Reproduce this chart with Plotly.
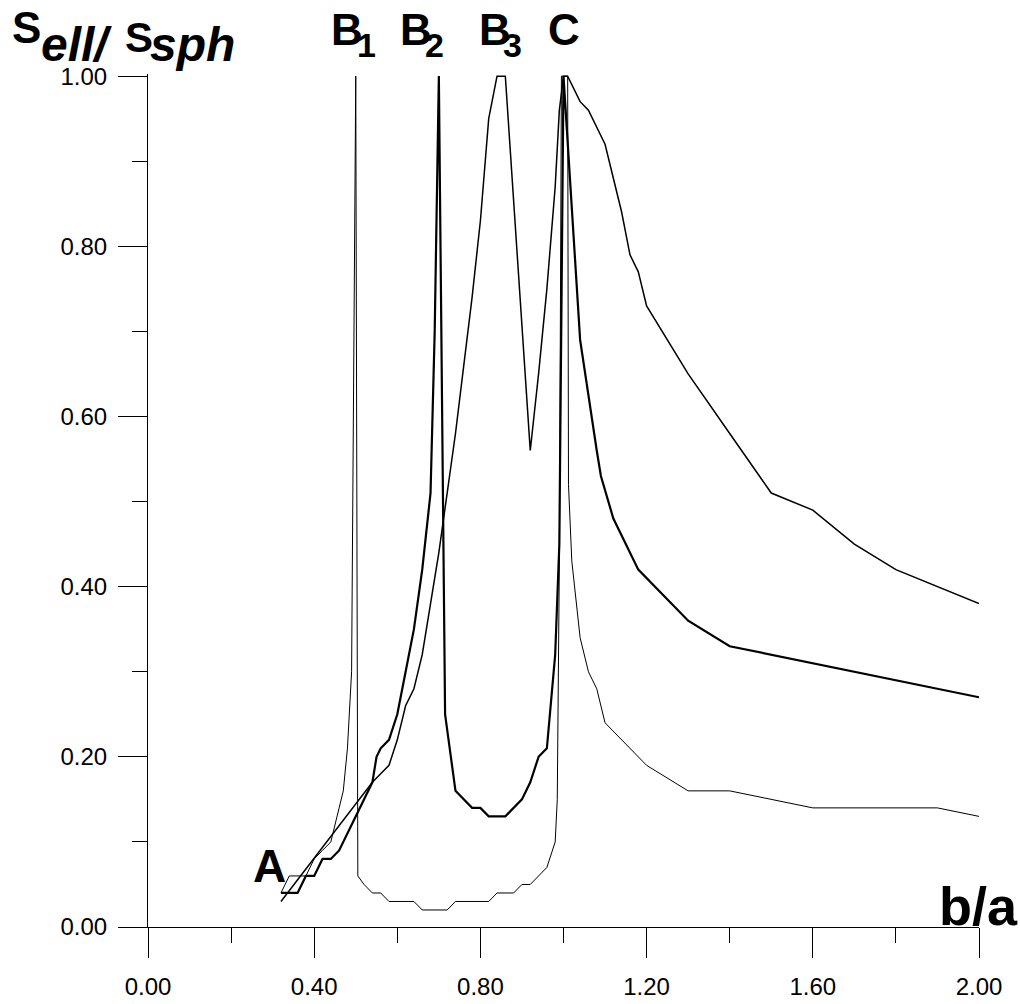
import plotly.graph_objects as go

# b/a values and normalised surface S_ell / S_sph for the three branches
b1_x = [0.32, 0.34, 0.38, 0.40, 0.42, 0.44, 0.46, 0.47, 0.48, 0.485, 0.49, 0.50, 0.505,
        0.52, 0.54, 0.56, 0.58, 0.64, 0.66, 0.72, 0.74, 0.82, 0.84, 0.88, 0.90, 0.92,
        0.96, 0.98, 0.985, 0.99, 0.995, 1.01, 1.012, 1.02, 1.04, 1.06, 1.08, 1.10,
        1.20, 1.30, 1.40, 1.60, 1.90, 2.00]
b1_y = [0.04, 0.06, 0.06, 0.08, 0.09, 0.10, 0.14, 0.16, 0.21, 0.25, 0.30, 1.00, 0.06,
        0.05, 0.04, 0.04, 0.03, 0.03, 0.02, 0.02, 0.03, 0.03, 0.04, 0.04, 0.05, 0.05,
        0.07, 0.10, 0.15, 0.43, 1.00, 1.00, 0.52, 0.43, 0.34, 0.30, 0.28, 0.24,
        0.19, 0.16, 0.16, 0.14, 0.14, 0.13]

b2_x = [0.32, 0.36, 0.38, 0.40, 0.42, 0.44, 0.46, 0.50, 0.52, 0.54, 0.55, 0.56, 0.58,
        0.60, 0.62, 0.64, 0.66, 0.68, 0.69, 0.70, 0.715, 0.74, 0.78, 0.80, 0.82, 0.86,
        0.90, 0.92, 0.94, 0.96, 0.98, 0.99, 1.00, 1.04, 1.08, 1.09, 1.12, 1.17, 1.18,
        1.30, 1.40, 2.00]
b2_y = [0.04, 0.04, 0.06, 0.06, 0.08, 0.08, 0.09, 0.13, 0.15, 0.17, 0.20, 0.21, 0.22,
        0.25, 0.30, 0.35, 0.42, 0.51, 0.70, 1.00, 0.25, 0.16, 0.14, 0.14, 0.13, 0.13,
        0.15, 0.17, 0.20, 0.21, 0.32, 0.45, 1.00, 0.69, 0.56, 0.53, 0.48, 0.43, 0.42,
        0.36, 0.33, 0.27]

b3_x = [0.32, 0.54, 0.56, 0.58, 0.60, 0.62, 0.64, 0.66, 0.68, 0.70, 0.72, 0.74, 0.76,
        0.78, 0.80, 0.82, 0.84, 0.86, 0.92, 0.94, 0.96, 0.98, 0.99, 1.00, 1.01, 1.04,
        1.06, 1.08, 1.10, 1.12, 1.14, 1.16, 1.17, 1.18, 1.20, 1.30, 1.40, 1.50, 1.60,
        1.70, 1.80, 2.00]
b3_y = [0.03, 0.17, 0.18, 0.19, 0.22, 0.26, 0.28, 0.32, 0.38, 0.44, 0.51, 0.58, 0.66,
        0.74, 0.83, 0.95, 1.00, 1.00, 0.56, 0.65, 0.75, 0.87, 0.96, 1.00, 1.00, 0.97,
        0.96, 0.94, 0.92, 0.88, 0.84, 0.79, 0.78, 0.77, 0.73, 0.65, 0.58, 0.51, 0.49,
        0.45, 0.42, 0.38]

x_ticks = [0.0, 0.4, 0.8, 1.2, 1.6, 2.0]
y_ticks = [0.0, 0.2, 0.4, 0.6, 0.8, 1.0]

W, H = 1020, 1004
L, R, T, B = 148, 41, 74, 77
FONT = "Liberation Sans, Arial, sans-serif"


def paper(xp, yp):
    """Pixel position on the page -> paper coordinates."""
    return (xp - L) / (W - L - R), (H - B - yp) / (H - B - T)


fig = go.Figure()
for xs, ys, w in [(b1_x, b1_y, 1.0), (b2_x, b2_y, 2.2), (b3_x, b3_y, 1.5)]:
    fig.add_trace(go.Scatter(x=xs, y=ys, mode="lines",
                             line=dict(color="black", width=w),
                             showlegend=False, hoverinfo="skip"))

axis_common = dict(
    showline=True, linecolor="black", linewidth=1,
    ticks="outside", tickcolor="black", tickwidth=1,
    showgrid=False, zeroline=False, tickformat=".2f", automargin=False,
    tickfont=dict(family=FONT, size=24, color="black"),
)
fig.update_xaxes(range=[0, 2.0], tickvals=x_ticks, ticklen=30,
                 ticklabelstandoff=8,
                 minor=dict(ticks="outside", ticklen=15, dtick=0.2, tick0=0,
                            tickcolor="black", tickwidth=1, showgrid=False),
                 **axis_common)
fig.update_yaxes(range=[0, 1.0025], tickvals=y_ticks, ticklen=29,
                 ticklabelstandoff=6,
                 minor=dict(ticks="outside", ticklen=15, dtick=0.1, tick0=0,
                            tickcolor="black", tickwidth=1, showgrid=False),
                 **axis_common)

# text pieces: (text, x_px, y_px, size)
labels = [
    ("<b>S</b>", 26, 27, 44),
    ("<b><i>ell/</i></b>", 76, 44, 48),
    ("<b>S</b>", 139, 38, 42),
    ("<b><i>sph</i></b>", 192, 44, 48),
    ("<b>B</b>", 347, 29, 44),
    ("<b>1</b>", 366, 45, 34),
    ("<b>B</b>", 416, 29, 44),
    ("<b>2</b>", 434, 45, 34),
    ("<b>B</b>", 495, 29, 44),
    ("<b>3</b>", 512, 45, 34),
    ("<b>C</b>", 564, 29, 44),
    ("<b>A</b>", 269, 866, 46),
    ("<b>b/a</b>", 978, 906, 54),
]
for text, xp, yp, size in labels:
    ax, ay = paper(xp, yp)
    fig.add_annotation(text=text, x=ax, y=ay, xref="paper", yref="paper",
                       xanchor="center", yanchor="middle", showarrow=False,
                       font=dict(family=FONT, size=size, color="black"))

fig.update_layout(
    width=W, height=H,
    margin=dict(l=L, r=R, t=T, b=B, autoexpand=False),
    paper_bgcolor="white", plot_bgcolor="white",
)

fig.write_html("out.html")
